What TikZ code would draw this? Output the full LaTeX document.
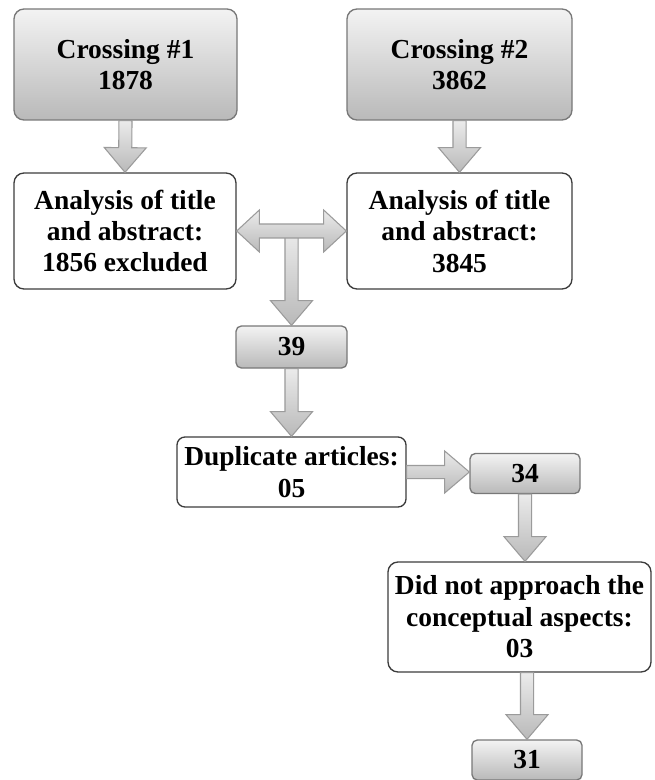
\documentclass[tikz,border=0pt]{standalone}
\usepackage{fontspec}
\setmainfont{Liberation Serif}
\usetikzlibrary{calc}
\definecolor{BoxLine}{RGB}{60,60,60}
\definecolor{GrayLine}{RGB}{120,120,120}
\definecolor{ShadeTop}{RGB}{243,243,243}
\definecolor{ShadeBottom}{RGB}{185,185,185}
\definecolor{ArrowLine}{RGB}{155,155,155}
\definecolor{ArrowTop}{RGB}{235,235,235}
\definecolor{ArrowBottom}{RGB}{185,185,185}

\tikzset{
  box/.style={draw=BoxLine, line width=1pt, rounded corners=7.5pt, align=center, inner sep=0pt,
    font=\bfseries\fontsize{20.6}{23.6}\selectfont},
  graybox/.style={box, draw=GrayLine, top color=ShadeTop, bottom color=ShadeBottom},
  whitebox/.style={box, fill=white},
  smallbox/.style={graybox, rounded corners=4pt},
  arrowbody/.style={draw=ArrowLine, line width=0.8pt, top color=ArrowTop, bottom color=ArrowBottom, line join=miter}
}

% block arrow from #1 to #2
\newcommand{\flowarrow}[2]{%
  \coordinate (head) at ($(#2)!18.5pt!(#1)$);
  \draw[arrowbody] ($(#1)!4.9pt!90:(#2)$) -- ($(head)!4.9pt!90:(#2)$)
    -- ($(head)!15.75pt!90:(#2)$) -- (#2) -- ($(head)!15.75pt!-90:(#2)$)
    -- ($(head)!4.9pt!-90:(#2)$) -- ($(#1)!4.9pt!-90:(#2)$) -- cycle;
}
% block arrow with a head on both ends
\newcommand{\flowdouble}[2]{%
  \coordinate (headA) at ($(#1)!17pt!(#2)$);
  \coordinate (headB) at ($(#2)!17pt!(#1)$);
  \draw[arrowbody] (#1) -- ($(headA)!15.75pt!90:(#2)$) -- ($(headA)!5.25pt!90:(#2)$)
    -- ($(headB)!5.25pt!90:(#2)$) -- ($(headB)!15.75pt!90:(#2)$) -- (#2)
    -- ($(headB)!15.75pt!-90:(#2)$) -- ($(headB)!5.25pt!-90:(#2)$)
    -- ($(headA)!5.25pt!-90:(#2)$) -- ($(headA)!15.75pt!-90:(#2)$) -- cycle;
}

\begin{document}
\begin{tikzpicture}[x=0.75pt, y=-0.75pt]
  \useasboundingbox (0,0) rectangle (654,780);

  % top row
  \node[graybox, minimum width=167.25pt, minimum height=83.25pt] (c1) at (125.5,64.5) {Crossing \#1\\1878};
  \node[graybox, minimum width=168.75pt, minimum height=83.25pt] (c2) at (459.5,64.5) {Crossing \#2\\3862};

  % screening
  \node[whitebox, minimum width=166.5pt, minimum height=87pt] (a1) at (125,231) {Analysis of title\\and abstract:\\1856 excluded};
  \node[whitebox, minimum width=168.75pt, minimum height=87pt] (a2) at (459.5,231) {Analysis of title\\and abstract:\\3845};

  \node[smallbox, minimum width=83.25pt, minimum height=31.5pt] (n39) at (291.5,347) {39};
  \node[whitebox, rounded corners=6pt, minimum width=171.75pt, minimum height=52.5pt] (dup) at (291.5,472) {Duplicate articles:\\05};
  \node[smallbox, minimum width=82.5pt, minimum height=30pt] (n34) at (525,473.5) {34};
  \node[whitebox, minimum width=197.25pt, minimum height=82.5pt] (did) at (519.5,617) {Did not approach the\\conceptual aspects:\\03};
  \node[smallbox, minimum width=82.5pt, minimum height=30pt] (n31) at (527,760) {31};

  % arrows
  \flowarrow{c1.south}{a1.north}
  \flowarrow{c2.south}{a2.north}
  \coordinate (mid) at ($(a1.east)!0.5!(a2.west)$);
  \flowarrow{mid}{n39.north}
  \flowdouble{a1.east}{a2.west}
  \flowarrow{n39.south}{dup.north}
  \coordinate (d34) at (dup.east -| n34.west);
  \flowarrow{dup.east}{d34}
  \coordinate (t34) at (n34.south |- did.north);
  \flowarrow{n34.south}{t34}
  \coordinate (b31) at (n31.north |- did.south);
  \flowarrow{b31}{n31.north}
\end{tikzpicture}
\end{document}
